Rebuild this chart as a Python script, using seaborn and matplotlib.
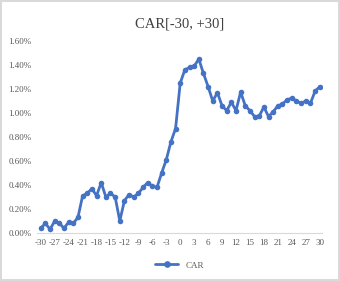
import pandas as pd
import matplotlib.pyplot as plt
import seaborn as sns
import numpy as np
from matplotlib.ticker import PercentFormatter

days = list(range(-30, 31))
car = [0.04, 0.08, 0.03, 0.10, 0.08, 0.04, 0.09, 0.08, 0.13, 0.31,
       0.33, 0.37, 0.31, 0.42, 0.30, 0.33, 0.30, 0.10, 0.27, 0.32,
       0.30, 0.33, 0.38, 0.42, 0.39, 0.38, 0.50, 0.61, 0.76, 0.87,
       1.25, 1.36, 1.38, 1.39, 1.45, 1.33, 1.22, 1.10, 1.17, 1.06,
       1.02, 1.09, 1.02, 1.175, 1.06, 1.02, 0.97, 0.975, 1.05, 0.97,
       1.01, 1.06, 1.075, 1.11, 1.125, 1.10, 1.08, 1.10, 1.08, 1.18,
       1.22]
xticks = list(range(-30, 31, 3))

df = pd.DataFrame({"day": days, "CAR": car})

sns.set_style("white")
plt.rcParams['font.family'] = ['Liberation Serif', 'DejaVu Serif']
plt.rcParams['axes.unicode_minus'] = False

fig = plt.figure(figsize=(3.4, 2.81), dpi=100, linewidth=1.5, edgecolor="#d9d9d9")
ax = fig.add_axes([0.109, 0.171, 0.838, 0.683])

sns.lineplot(data=df, x="day", y="CAR", ax=ax, color="#4472C4", linewidth=2,
             marker="o", markersize=4, markeredgewidth=0, label="CAR")

ax.set_xlim(-30.8, 30.5)
ax.set_ylim(0, 1.6)
ax.set_xticks(xticks)
ax.set_yticks(np.arange(0, 1.61, 0.2))
ax.yaxis.set_major_formatter(PercentFormatter(decimals=2))
ax.tick_params(axis="both", labelsize=6.5, colors="#595959", length=0, pad=4)
ax.set_xlabel("")
ax.set_ylabel("")
ax.set_title("CAR[-30, +30]", fontsize=10.5, color="#404040", pad=10)

for s in ["top", "right", "left"]:
    ax.spines[s].set_visible(False)
ax.spines["bottom"].set_color("#d9d9d9")
ax.spines["bottom"].set_linewidth(0.8)

ax.legend(loc="upper center", bbox_to_anchor=(0.5, -0.105), frameon=False,
          fontsize=6.5, labelcolor="#595959", handlelength=2.5, markerscale=1.2)

plt.savefig("out.png", dpi=100)
plt.close()
